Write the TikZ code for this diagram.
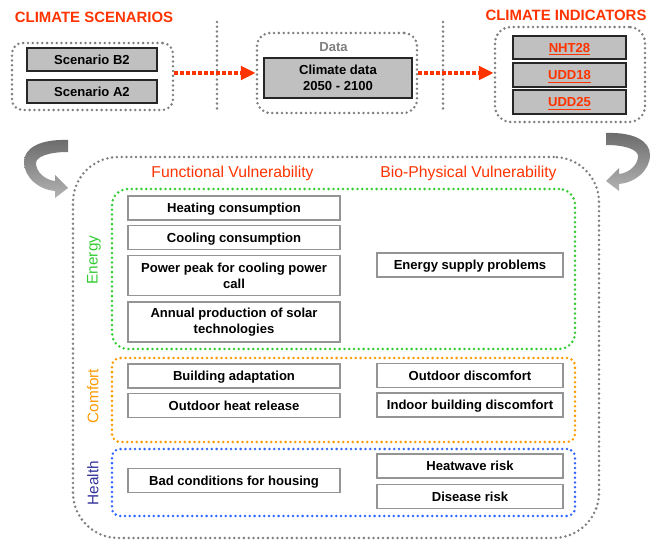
\documentclass[tikz,border=0pt]{standalone}
\usepackage{fontspec}
\setmainfont{Liberation Sans}
\usetikzlibrary{positioning}
\usetikzlibrary{arrows.meta}
\definecolor{titlered}{HTML}{FF3300}
\definecolor{dotgray}{HTML}{808080}
\definecolor{boxgray}{HTML}{C0C0C0}
\definecolor{energygreen}{HTML}{33CC33}
\definecolor{comfortorange}{HTML}{FF9900}
\definecolor{healthblue}{HTML}{3366FF}
\definecolor{healthnavy}{HTML}{333399}
\tikzset{
        dot_line/.style={line width=2.1pt, line cap=round, dash pattern=on 0pt off 3.6pt},
        % Dotted frames
        frame_dots/.style={rectangle, dot_line, inner sep=0pt},
        % One line of text, kept on the same baseline
        one_line/.style={text height=9.2pt, text depth=2pt},
        % Grey boxes of the first row
        box_grey/.style={rectangle, draw=black!85, line width=1.3pt, fill=boxgray, align=center, inner sep=0pt, font=\fontsize{9.8}{11.5}\selectfont\bfseries},
        % Vulnerability boxes
        box_vuln/.style={rectangle, draw=black!42, line width=1pt, fill=white, align=center, inner sep=0pt, minimum height=18pt, font=\fontsize{9.8}{11.5}\selectfont\bfseries},
        box_left/.style={box_vuln, one_line, minimum width=159pt},
        box_right/.style={box_vuln, one_line, minimum width=139.5pt},
        % Titles
        title_top/.style={text=titlered, inner sep=0pt, font=\fontsize{11.2}{13}\selectfont\bfseries},
        title_col/.style={text=titlered, inner sep=0pt, font=\fontsize{11.8}{13}\selectfont},
        title_side/.style={rotate=90, inner sep=0pt, font=\fontsize{11.5}{13}\selectfont},
        % Red dotted arrows
        arrow_red/.style={draw=titlered, line width=3pt, dash pattern=on 2.8pt off 1.7pt, -{Triangle[length=11pt,width=10pt]}},
        % Bent grey arrows
        pics/bend_arrow/.style={code={
            \path[top color=black!58, bottom color=black!30]
              (0,0) .. controls (-28,-1) and (-44,8) .. (-44,22)
              .. controls (-44,38) and (-28,50) .. (-13,51) -- (-13,58) -- (0,48) -- (-13,35) -- (-13,41)
              .. controls (-23,40) and (-32,32) .. (-32,23)
              .. controls (-32,17) and (-20,12) .. (0,12) -- cycle;
        }}
}

\begin{document}
\begin{tikzpicture}[x=0.75pt, y=-0.75pt]
    \useasboundingbox (0,0) rectangle (656,541);

    % first row
    \node[title_top] (t_scen) at (94,17) {CLIMATE SCENARIOS};
    \node[title_top] (t_ind) at (566,15) {CLIMATE INDICATORS};

    \node[frame_dots, draw=dotgray, rounded corners=8pt, minimum width=120.75pt, minimum height=50.25pt] (scen_group) at (92.5,76.5) {};
    \node[box_grey, one_line, minimum width=97.5pt, minimum height=17.25pt] (scen_b2) at (92,59.5) {Scenario B2};
    \node[box_grey, one_line, minimum width=97.5pt, minimum height=17.25pt] (scen_a2) at (92,91.5) {Scenario A2};

    \node[frame_dots, draw=dotgray, rounded corners=10pt, minimum width=120pt, minimum height=60pt] (data_group) at (337,73) {};
    \node[text=dotgray, inner sep=0pt, font=\fontsize{9.8}{11.5}\selectfont\bfseries] (data_lbl) at (333.5,47) {Data};
    \node[box_grey, minimum width=111pt, minimum height=30pt] (data_box) at (338,78) {Climate data\\2050 - 2100};

    \node[frame_dots, draw=dotgray, rounded corners=12pt, minimum width=112.5pt, minimum height=71.25pt] (ind_group) at (570,74.5) {};
    \node[box_grey, one_line, text=titlered, minimum width=84.75pt, minimum height=17.25pt] (nht28) at (569.5,47.5) {\underline{NHT28}};
    \node[box_grey, one_line, text=titlered, minimum width=84.75pt, minimum height=18pt] (udd18) at (569.5,75) {\underline{UDD18}};
    \node[box_grey, one_line, text=titlered, minimum width=84.75pt, minimum height=18pt] (udd25) at (569.5,102) {\underline{UDD25}};

    \draw[dot_line, draw=dotgray] (217,22) -- (217,110);
    \draw[dot_line, draw=dotgray] (443,22) -- (443,110);

    \draw[arrow_red] (scen_group.east |- data_group.west) -- (data_group.west);
    \draw[arrow_red] (data_group.east) -- (data_group.east -| ind_group.west);

    \pic at (68,140) {bend_arrow};
    \pic[xscale=-1] at (606,133) {bend_arrow};

    % vulnerability frames
    \node[frame_dots, draw=dotgray, rounded corners=34pt, minimum width=394.5pt, minimum height=285.75pt] (frame_main) at (336,347.5) {};
    \node[frame_dots, draw=energygreen, rounded corners=12pt, minimum width=347.25pt, minimum height=120pt] (frame_energy) at (343.5,269) {};
    \node[frame_dots, draw=comfortorange, rounded corners=6pt, minimum width=347.25pt, minimum height=63pt] (frame_comfort) at (343.5,400) {};
    \node[frame_dots, draw=healthblue, rounded corners=6pt, minimum width=347.25pt, minimum height=50.25pt] (frame_health) at (343.5,482.5) {};

    \node[title_col] (t_func) at (232.5,173) {Functional Vulnerability};
    \node[title_col] (t_bio) at (468.5,173) {Bio-Physical Vulnerability};

    \node[title_side, text=energygreen] (s_energy) at (94,260) {Energy};
    \node[title_side, text=comfortorange] (s_comfort) at (93,396) {Comfort};
    \node[title_side, text=healthnavy] (s_health) at (93,483) {Health};

    % functional column
    \node[box_left] (heat) at (234,208) {Heating consumption};
    \node[box_left, below=3pt of heat] (cool) {Cooling consumption};
    \node[box_vuln, minimum width=159pt, minimum height=30pt, below=3.75pt of cool] (peak) {Power peak for cooling power\\call};
    \node[box_vuln, minimum width=159pt, minimum height=30pt, below=3.75pt of peak] (solar) {Annual production of solar\\technologies};
    \node[box_left] (build) at (234,376) {Building adaptation};
    \node[box_left, below=3pt of build] (release) {Outdoor heat release};
    \node[box_left] (housing) at (234,480.5) {Bad conditions for housing};

    % bio-physical column
    \node[box_right] (supply) at (470,265) {Energy supply problems};
    \node[box_right] (outdoor) at (470,375.5) {Outdoor discomfort};
    \node[box_right, below=3pt of outdoor] (indoor) {Indoor building discomfort};
    \node[box_right] (heatwave) at (470,466) {Heatwave risk};
    \node[box_right, below=3.75pt of heatwave] (disease) {Disease risk};
\end{tikzpicture}
\end{document}
